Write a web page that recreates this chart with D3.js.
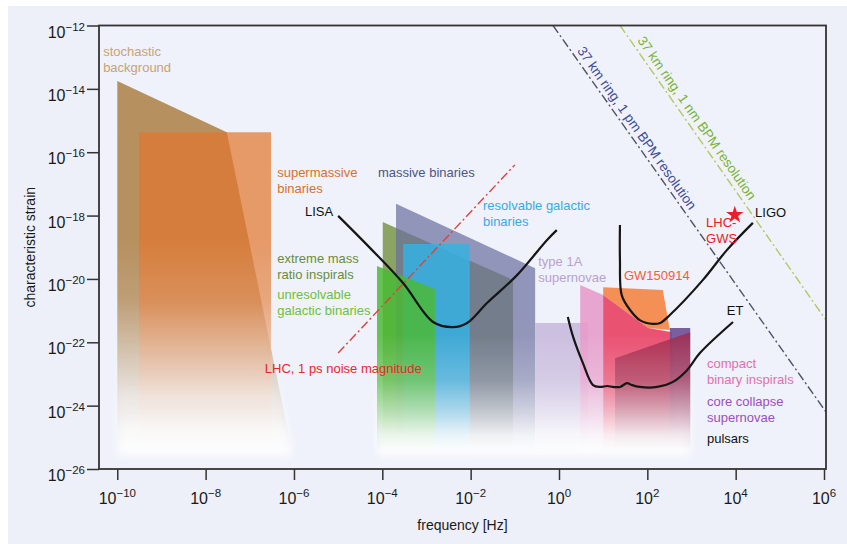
<!DOCTYPE html>
<html>
<head>
<meta charset="utf-8">
<script src="https://cdn.jsdelivr.net/npm/d3@7"></script>
<style>
  body { margin: 0; background: #fff; }
  svg text { font-family: "Liberation Sans", Arial, sans-serif; }
</style>
</head>
<body>
<div id="chart"></div>
<script>
// tick exponents (powers of ten)
const xTickExps = [-10, -8, -6, -4, -2, 0, 2, 4, 6];
const yTickExps = [-26, -24, -22, -20, -18, -16, -14, -12];

// source regions, vertices as [log10 frequency, log10 strain]
const stochasticBg = [[-10.0, -13.75], [-7.52, -15.37], [-6.02, -25.6], [-10.0, -25.6]];
const supermassive = [[-9.51, -15.37], [-6.52, -15.37], [-6.52, -25.6], [-9.51, -25.6]];
const emri = [[-3.99, -18.20], [-1.04, -20.03], [-1.04, -25.6], [-3.99, -25.6]];
const massiveBin = [[-3.69, -17.63], [-0.54, -19.66], [-0.54, -25.6], [-3.69, -25.6]];
const resolvable = [[-3.53, -18.90], [-2.02, -18.90], [-2.02, -25.6], [-3.53, -25.6]];
const unresolvable = [[-4.12, -19.59], [-2.81, -20.32], [-2.81, -25.6], [-4.12, -25.6]];
const type1a = [[-0.54, -21.39], [0.66, -21.39], [0.66, -25.6], [-0.54, -25.6]];
const compactBin = [[0.48, -20.19], [1.00, -20.51], [1.00, -25.6], [0.48, -25.6]];
const gw150914 = [[1.00, -20.26], [2.35, -20.35], [2.51, -21.61], [2.02, -21.55], [1.00, -20.51]];
const compactRed = [[1.00, -20.51], [2.02, -21.55], [2.56, -21.68], [2.65, -25.6], [1.00, -25.6]];
const coreCollapse = [[2.51, -21.55], [2.97, -21.55], [2.97, -25.6], [2.51, -25.6]];
const pulsars = [[1.27, -22.50], [2.97, -21.68], [2.97, -25.6], [1.27, -25.6]];

// detector sensitivity curves
const lisaCurve = [[-5.00, -18.01], [-4.28, -19.02], [-3.53, -20.13], [-2.85, -21.36], [-2.40, -21.52],
  [-2.08, -21.39], [-1.63, -20.76], [-0.95, -19.88], [-0.27, -18.77], [-0.05, -18.46]];
const ligoCurve = [[1.38, -18.30], [1.38, -19.40], [1.42, -20.51], [1.61, -20.98], [1.83, -21.30],
  [2.13, -21.42], [2.29, -21.39], [2.51, -21.14], [3.26, -20.03], [3.80, -19.09], [4.39, -18.23]];
const etCurve = [[0.20, -21.20], [0.32, -21.83], [0.54, -22.65], [0.77, -23.35], [0.93, -23.41],
  [1.09, -23.38], [1.22, -23.41], [1.38, -23.41], [1.54, -23.29], [1.65, -23.35], [1.83, -23.41],
  [2.22, -23.41], [2.58, -23.25], [2.90, -22.88], [3.19, -22.34], [3.94, -21.36]];

// straight reference lines
const lhcNoise = [[-5.0, -22.34], [-1.0, -16.40]];
const ring1pm = [[-0.136, -12.0], [6.045, -24.2]];
const ring1nm = [[1.381, -12.0], [6.045, -21.3]];
const lhcGws = [3.98, -17.98];

const width = 847;
const height = 544;

const svg = d3.select("#chart")
    .append("svg")
    .attr("width", width)
    .attr("height", height);

// panel background
svg.append("rect")
    .attr("x", 8).attr("y", 6)
    .attr("width", width - 8).attr("height", height - 6)
    .attr("fill", "#edf0f8");

const x = d3.scaleLog()
    .domain([10 ** -10.414, 10 ** 6.045])
    .range([99, 826]);

const y = d3.scaleLog()
    .domain([1e-26, 1e-12])
    .range([469, 25.5]);

const px = p => x(10 ** p[0]);
const py = p => y(10 ** p[1]);

const [x0, x1] = x.range();
const [y1, y0] = y.range();

svg.append("rect")
    .attr("x", x0).attr("y", y0)
    .attr("width", x1 - x0).attr("height", y1 - y0)
    .attr("fill", "#eff2fa");

const defs = svg.append("defs");

defs.append("clipPath").attr("id", "plotClip")
    .append("rect")
    .attr("x", x0).attr("y", y0)
    .attr("width", x1 - x0).attr("height", y1 - y0);

defs.append("filter")
    .attr("id", "soft")
    .attr("x", "-10%").attr("y", "-10%")
    .attr("width", "120%").attr("height", "120%")
    .append("feGaussianBlur")
    .attr("stdDeviation", 4);

// vertical masks: fade the regions out towards the bottom
function addFadeMask(id, stops) {
  const grad = defs.append("linearGradient")
      .attr("id", id + "Grad")
      .attr("gradientUnits", "userSpaceOnUse")
      .attr("x1", 0).attr("x2", 0)
      .attr("y1", y0).attr("y2", y1);
  stops.forEach(([yy, v]) => {
    grad.append("stop")
        .attr("offset", (yy - y0) / (y1 - y0))
        .attr("stop-color", d3.rgb(255 * v, 255 * v, 255 * v));
  });
  defs.append("mask")
      .attr("id", id)
      .attr("maskUnits", "userSpaceOnUse")
      .attr("x", 0).attr("y", 0).attr("width", width).attr("height", height)
      .append("rect")
      .attr("x", 0).attr("y", 0).attr("width", width).attr("height", height)
      .attr("fill", `url(#${id}Grad)`);
}
addFadeMask("fadeEarly", [[240, 1], [300, 0.85], [350, 0.5], [395, 0.18], [430, 0.04], [450, 0]]);
addFadeMask("fadeLate", [[335, 1], [380, 0.78], [412, 0.4], [435, 0.1], [450, 0]]);
addFadeMask("glow", [[300, 0], [380, 0.3], [430, 0.8], [455, 0.8]]);

const regions = [
  { pts: stochasticBg, fill: "#b38a56", opacity: 0.95, fade: "fadeEarly" },
  { pts: supermassive, fill: "#e2772f", opacity: 0.72, fade: "fadeEarly" },
  { pts: emri, fill: "#7f9a52", opacity: 0.9, fade: "fadeLate" },
  { pts: massiveBin, fill: "#6a6d9d", opacity: 0.7, fade: "fadeLate" },
  { pts: resolvable, fill: "#36b2e2", opacity: 0.85, fade: "fadeLate" },
  { pts: unresolvable, fill: "#4cba36", opacity: 0.85, fade: "fadeLate" },
  { pts: type1a, fill: "#c6b6da", opacity: 0.85, fade: "fadeLate" },
  { pts: compactBin, fill: "#e79ccb", opacity: 0.9, fade: "fadeLate" },
  { pts: gw150914, fill: "#f3894c", opacity: 0.95, fade: "fadeLate" },
  { pts: compactRed, fill: "#e9496a", opacity: 0.95, fade: "fadeLate" },
  { pts: coreCollapse, fill: "#6c4f92", opacity: 0.9, fade: "fadeLate" },
  { pts: pulsars, fill: "#a3284b", opacity: 0.8, fade: "fadeLate" }
];

const areaLayer = svg.append("g").attr("clip-path", "url(#plotClip)");
const polygon = d3.line().x(px).y(py);

// soft white glow under the faded bottoms
areaLayer.append("g")
    .attr("mask", "url(#glow)")
    .append("g")
    .attr("filter", "url(#soft)")
    .selectAll("path")
    .data(regions)
    .enter()
    .append("path")
    .attr("d", d => polygon(d.pts) + "Z")
    .attr("fill", "#fff");

["fadeEarly", "fadeLate"].forEach(m => {
  areaLayer.append("g")
      .attr("mask", `url(#${m})`)
      .selectAll("path")
      .data(regions.filter(r => r.fade === m))
      .enter()
      .append("path")
      .attr("d", d => polygon(d.pts) + "Z")
      .attr("fill", d => d.fill)
      .attr("fill-opacity", d => d.opacity);
});

// reference lines (dash-dot)
const lineLayer = svg.append("g").attr("clip-path", "url(#plotClip)");
[
  { pts: lhcNoise, color: "#e0403c" },
  { pts: ring1pm, color: "#4e5468" },
  { pts: ring1nm, color: "#b2c866" }
].forEach(l => {
  lineLayer.append("path")
      .attr("d", polygon(l.pts))
      .attr("fill", "none")
      .attr("stroke", l.color)
      .attr("stroke-width", 1.4)
      .attr("stroke-dasharray", "9,3,2,3");
});

// sensitivity curves
const smooth = d3.line().x(px).y(py).curve(d3.curveCatmullRom.alpha(0.5));
[lisaCurve, ligoCurve, etCurve].forEach(c => {
  lineLayer.append("path")
      .attr("d", smooth(c))
      .attr("fill", "none")
      .attr("stroke", "#161616")
      .attr("stroke-width", 2.2)
      .attr("stroke-linejoin", "round");
});

// LHC-GWS star
svg.append("path")
    .attr("d", d3.symbol().type(d3.symbolStar).size(95)())
    .attr("transform", `translate(${px(lhcGws)},${py(lhcGws)})`)
    .attr("fill", "#e8202a");

// rotated labels along the ring lines
function lineAngle(pts) {
  const dx = px(pts[1]) - px(pts[0]);
  const dy = py(pts[1]) - py(pts[0]);
  return Math.atan2(dy, dx) * 180 / Math.PI;
}
[
  { text: "37 km ring, 1 pm BPM resolution", at: [1.766, -15.235], line: ring1pm, color: "#3c4a98" },
  { text: "37 km ring, 1 nm BPM resolution", at: [3.124, -14.92], line: ring1nm, color: "#7ab236" }
].forEach(t => {
  svg.append("text")
      .attr("transform", `translate(${px(t.at)},${py(t.at)}) rotate(${lineAngle(t.line)})`)
      .attr("text-anchor", "middle")
      .attr("dy", "0.35em")
      .attr("font-size", 13.5)
      .attr("fill", t.color)
      .text(t.text);
});

// annotation labels, anchored in data coordinates
const labels = [
  { lines: ["stochastic", "background"], at: [-10.32, -12.96], color: "#c9a275" },
  { lines: ["supermassive", "binaries"], at: [-6.38, -16.78], color: "#d8702c" },
  { lines: ["massive binaries"], at: [-4.10, -16.78], color: "#4c5488" },
  { lines: ["LISA"], at: [-5.75, -18.01], color: "#111" },
  { lines: ["resolvable galactic", "binaries"], at: [-1.72, -17.82], color: "#3aa9e0" },
  { lines: ["extreme mass", "ratio inspirals"], at: [-6.38, -19.50], color: "#6a8c3c" },
  { lines: ["unresolvable", "galactic binaries"], at: [-6.38, -20.63], color: "#6cc040" },
  { lines: ["LHC, 1 ps noise magnitude"], at: [-6.66, -22.97], color: "#e82828" },
  { lines: ["type 1A", "supernovae"], at: [-0.47, -19.59], color: "#b8a2cc" },
  { lines: ["GW150914"], at: [1.47, -20.03], color: "#f06038" },
  { lines: ["ET"], at: [3.80, -21.14], color: "#111" },
  { lines: ["compact", "binary inspirals"], at: [3.35, -22.81], color: "#e070b0" },
  { lines: ["core collapse", "supernovae"], at: [3.35, -24.01], color: "#9a50b8" },
  { lines: ["pulsars"], at: [3.35, -25.18], color: "#111" },
  { lines: ["LIGO"], at: [4.44, -18.04], color: "#111" },
  { lines: ["LHC-", "GWS"], at: [3.33, -18.36], color: "#e81a1a" }
];

labels.forEach(l => {
  const t = svg.append("text")
      .attr("x", px(l.at))
      .attr("y", py(l.at))
      .attr("font-size", 13)
      .attr("fill", l.color);
  l.lines.forEach((s, i) => {
    t.append("tspan")
        .attr("x", px(l.at))
        .attr("dy", i === 0 ? 0 : 15.7)
        .text(s);
  });
});

// axes
const xAxis = svg.append("g")
    .attr("transform", `translate(0,${y1})`)
    .call(d3.axisBottom(x).tickValues(xTickExps.map(e => 10 ** e)).tickSize(11).tickFormat(""));
const yAxis = svg.append("g")
    .attr("transform", `translate(${x0},0)`)
    .call(d3.axisLeft(y).tickValues(yTickExps.map(e => 10 ** e)).tickSize(12).tickFormat(""));

[xAxis, yAxis].forEach(a => {
  a.select(".domain").remove();
  a.selectAll(".tick line").attr("stroke", "#333").attr("stroke-width", 1.5);
});

// power-of-ten tick labels
function powerLabel(g, e, anchor) {
  const t = g.append("text")
      .attr("text-anchor", anchor)
      .attr("fill", "#1a1a1a")
      .attr("font-size", 16);
  t.append("tspan").text("10");
  t.append("tspan")
      .attr("dy", -7)
      .attr("font-size", 11.5)
      .text(String(e).replace("-", "\u2212"));
  return t;
}

xTickExps.forEach(e => {
  powerLabel(svg, e, "middle")
      .attr("x", x(10 ** e))
      .attr("y", y1 + 35);
});
yTickExps.forEach(e => {
  powerLabel(svg, e, "end")
      .attr("x", x0 - 14)
      .attr("y", y(10 ** e) + 12);
});

// frame
svg.append("rect")
    .attr("x", x0).attr("y", y0)
    .attr("width", x1 - x0).attr("height", y1 - y0)
    .attr("fill", "none")
    .attr("stroke", "#333")
    .attr("stroke-width", 1.8);

// axis titles
svg.append("text")
    .attr("x", (x0 + x1) / 2)
    .attr("y", 530)
    .attr("text-anchor", "middle")
    .attr("font-size", 14)
    .attr("fill", "#1a1a1a")
    .text("frequency [Hz]");

svg.append("text")
    .attr("transform", `translate(35,${(y0 + y1) / 2}) rotate(-90)`)
    .attr("text-anchor", "middle")
    .attr("font-size", 14)
    .attr("fill", "#1a1a1a")
    .text("characteristic strain");
</script>
</body>
</html>
